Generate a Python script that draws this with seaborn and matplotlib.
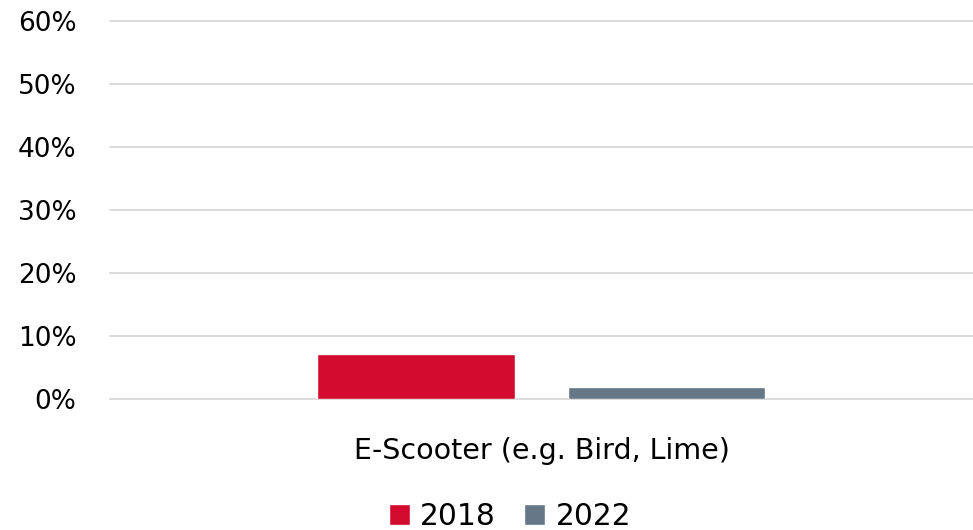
import pandas as pd
import seaborn as sns
import matplotlib.pyplot as plt
from matplotlib.ticker import PercentFormatter

categories = ["E-Scooter (e.g. Bird, Lime)"]
years = ["2018", "2022"]
values_2018 = [0.071]
values_2022 = [0.019]

df = pd.DataFrame({
    "category": categories * 2,
    "year": [years[0]] * len(values_2018) + [years[1]] * len(values_2022),
    "share": values_2018 + values_2022,
})

sns.set_style("white")
plt.rcParams["font.family"] = ["DejaVu Sans"]
plt.rcParams["text.color"] = "black"
plt.rcParams["xtick.color"] = "black"
plt.rcParams["ytick.color"] = "black"

fig = plt.figure(figsize=(9.73, 5.30), dpi=100)
ax = fig.add_axes([0.113, 0.247, 0.887, 0.713])

sns.barplot(data=df, x="category", y="share", hue="year",
            palette=["#D20B2F", "#667788"], width=0.58, gap=0.21,
            saturation=1, ax=ax)

ax.set_ylim(0, 0.6)
ax.set_yticks([0, 0.1, 0.2, 0.3, 0.4, 0.5, 0.6])
ax.yaxis.set_major_formatter(PercentFormatter(1.0, decimals=0))
ax.set_xlim(-0.5, 0.5)
ax.grid(axis="y", color="#D9D9D9", linewidth=1.3)
ax.set_axisbelow(True)
for line in ax.get_ygridlines():
    line.set_clip_on(False)
for s in ax.spines.values():
    s.set_visible(False)
ax.tick_params(axis="y", length=0, pad=24, labelsize=19)
ax.tick_params(axis="x", length=0, pad=27, labelsize=20.5)
ax.set_xlabel("")
ax.set_ylabel("")

ax.legend(loc="upper center", bbox_to_anchor=(0.524, 0.103), bbox_transform=fig.transFigure,
          ncol=2, frameon=False, fontsize=21.4, handlelength=0.71, handleheight=0.71,
          handletextpad=0.35, columnspacing=0.95)

fig.savefig("out.png", dpi=100)
